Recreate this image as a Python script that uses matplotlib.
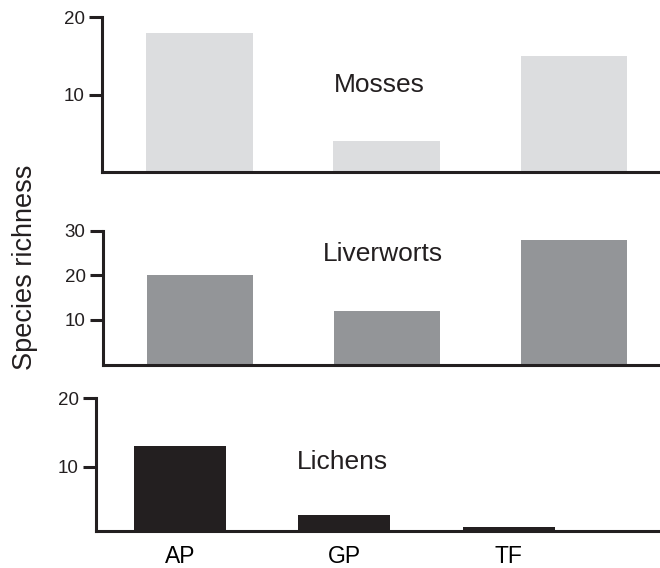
import matplotlib.pyplot as plt

plt.rcParams['font.family'] = ['Liberation Sans', 'DejaVu Sans']

sites = ['AP', 'GP', 'TF']
mosses = [18, 4, 15]
liverworts = [20, 12, 28]
lichens = [13, 3, 1.2]

DARK = '#231f20'

fig = plt.figure(figsize=(6.6, 5.68), dpi=100)

panels = [
    # values, colour, label, rect, ylim, yticks, xlim, width, text pos
    (mosses, '#dcdddf', 'Mosses', [0.1545, 0.697, 0.843, 0.273], (0, 20), [10, 20],
     (-0.52, 2.45), 0.57, (0.96, 11.2)),
    (liverworts, '#939598', 'Liverworts', [0.156, 0.358, 0.841, 0.236], (0, 30), [10, 20, 30],
     (-0.52, 2.45), 0.57, (0.98, 24.7)),
    (lichens, DARK, 'Lichens', [0.1455, 0.065, 0.8545, 0.234], (0.6, 20), [10, 20],
     (-0.51, 2.92), 0.56, (0.99, 10.7)),
]

x = range(len(sites))
for i, (vals, col, name, rect, ylim, yt, xl, w, tpos) in enumerate(panels):
    ax = fig.add_axes(rect)
    ax.bar(x, vals, width=w, color=col, edgecolor='none')
    ax.set_ylim(*ylim)
    ax.set_xlim(*xl)
    ax.set_yticks(yt)
    ax.text(tpos[0], tpos[1], name, ha='center', va='center', fontsize=19, color=DARK)
    for s in ['top', 'right']:
        ax.spines[s].set_visible(False)
    for s in ['left', 'bottom']:
        ax.spines[s].set_linewidth(2.2)
        ax.spines[s].set_color(DARK)
    ax.tick_params(axis='y', length=9.5, width=2.2, color=DARK, labelsize=13.5,
                   labelcolor=DARK, pad=3)
    if i == 2:
        ax.set_xticks(list(x))
        ax.set_xticklabels(sites, fontsize=16.5, color='black')
        ax.tick_params(axis='x', length=0, pad=10)
    else:
        ax.set_xticks([])

fig.text(0.038, 0.53, 'Species richness', rotation=90, ha='center', va='center',
         fontsize=19.5, color=DARK)

plt.savefig('out.png', dpi=100)
